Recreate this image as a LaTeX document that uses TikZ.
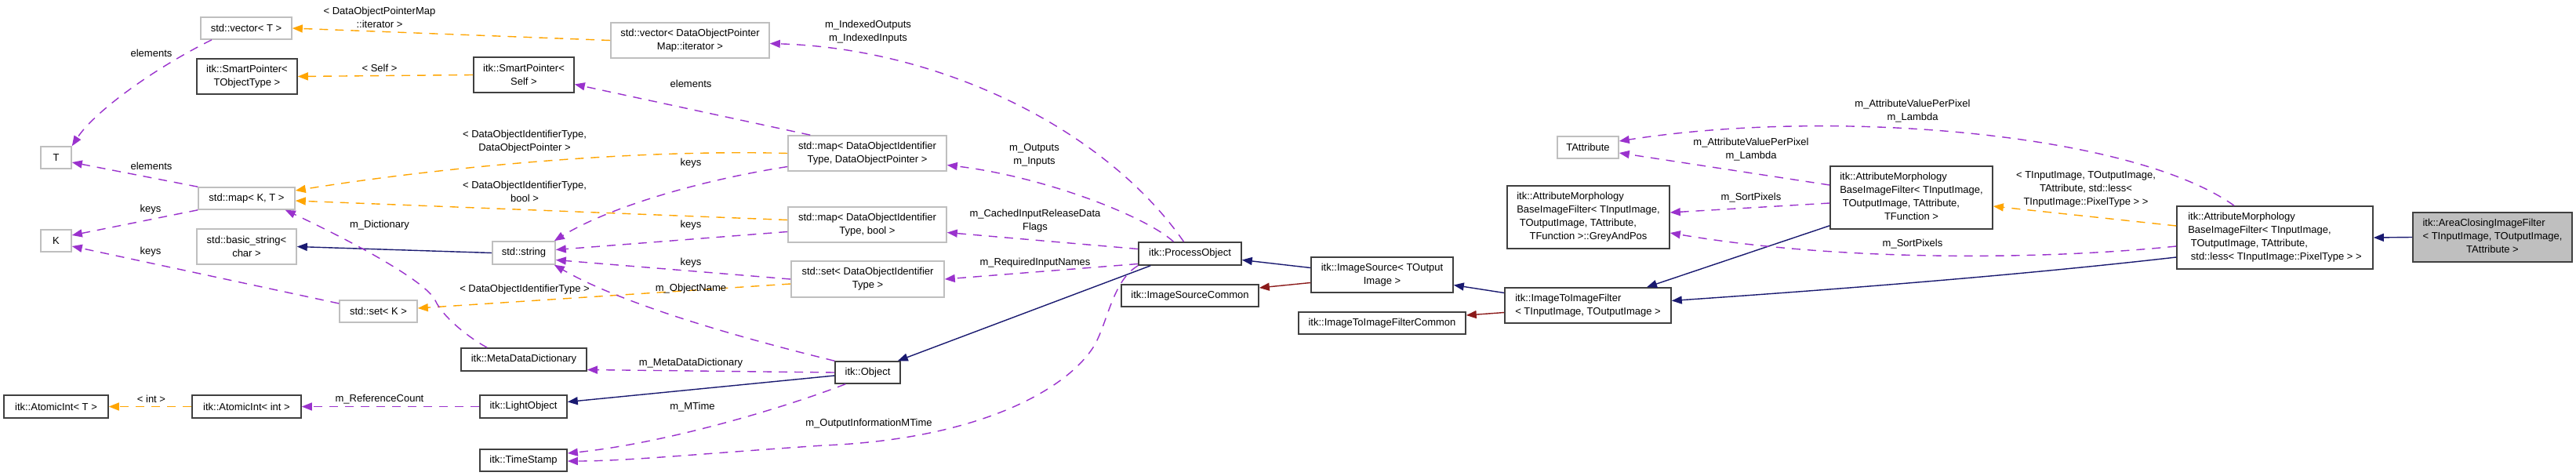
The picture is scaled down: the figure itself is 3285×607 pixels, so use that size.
\documentclass[tikz,border=0pt]{standalone}
\usepackage{fontspec}
\setmainfont{Liberation Sans}
\usetikzlibrary{arrows.meta}
\definecolor{orchid}{HTML}{9A32CD}
\definecolor{orng}{HTML}{FFA500}
\definecolor{navyb}{HTML}{191970}
\definecolor{fireb}{HTML}{8B1A1A}
\definecolor{grey75}{HTML}{BFBFBF}
\definecolor{boxblk}{HTML}{404040}
\newcommand{\lt}[1]{\begin{tabular}{@{}l@{}}#1\end{tabular}}
\begin{document}
\begin{tikzpicture}[x=1pt,y=-1pt,
  base/.style={rectangle, inner sep=0pt, font=\fontsize{13}{17}\selectfont, line width=1.6pt, align=center, fill=white},
  gbox/.style={base, draw=grey75},
  bbox/.style={base, draw=boxblk},
  sz/.style 2 args={minimum width=#1pt, minimum height=#2pt},
  lbl/.style={font=\fontsize{13}{17}\selectfont, align=center, inner sep=0pt},
  tip/.style={-{Triangle[length=13pt,width=10pt]}},
  use/.style={draw=orchid, line width=1.4pt, dash pattern=on 11pt off 9pt, tip},
  tmpl/.style={draw=orng, line width=1.4pt, dash pattern=on 11pt off 9pt, tip},
  inh/.style={draw=navyb, line width=1.4pt, tip},
  priv/.style={draw=fireb, line width=1.4pt, tip}
]
\fill[white] (0,0) rectangle (3285,607);
\useasboundingbox (0,0) rectangle (3285,607);

% nodes
\node[gbox, sz={116}{28}] (vecT) at (314,36) {std::vector< T >};
\node[bbox, sz={128}{45}] (spT) at (315,97.5) {itk::SmartPointer<\\TObjectType >};
\node[gbox, sz={39}{28}] (T) at (71.5,201) {T};
\node[gbox, sz={123}{28}] (mapKT) at (314.5,253) {std::map< K, T >};
\node[gbox, sz={39}{28}] (K) at (71.5,307) {K};
\node[gbox, sz={127}{45}] (bstr) at (314.5,314.5) {std::basic\_string<\\char >};
\node[gbox, sz={99}{28}] (setK) at (482.5,397) {std::set< K >};
\node[bbox, sz={133}{29}] (aiT) at (71.5,518.5) {itk::AtomicInt< T >};
\node[bbox, sz={139}{29}] (aiInt) at (314.5,518.5) {itk::AtomicInt< int >};
\node[bbox, sz={160}{29}] (mdd) at (668,458.5) {itk::MetaDataDictionary};
\node[gbox, sz={202}{45}] (vecDOP) at (880,51.5) {std::vector< DataObjectPointer\\Map::iterator >};
\node[bbox, sz={128}{45}] (spSelf) at (668,95.5) {itk::SmartPointer<\\Self >};
\node[gbox, sz={202}{45}] (mapDOP) at (1106,195.5) {std::map< DataObjectIdentifier\\Type, DataObjectPointer >};
\node[gbox, sz={202}{45}] (mapBool) at (1106,286.5) {std::map< DataObjectIdentifier\\Type, bool >};
\node[gbox, sz={80}{29}] (str) at (668,322.5) {std::string};
\node[gbox, sz={195}{46}] (setDOI) at (1106.5,356) {std::set< DataObjectIdentifier\\Type >};
\node[bbox, sz={83}{28}] (obj) at (1106.5,475) {itk::Object};
\node[bbox, sz={111}{29}] (lobj) at (667.5,518.5) {itk::LightObject};
\node[bbox, sz={111}{28}] (ts) at (667.5,587) {itk::TimeStamp};
\node[bbox, sz={131}{29}] (po) at (1517.5,323.5) {itk::ProcessObject};
\node[bbox, sz={181}{45}] (isrc) at (1762.5,350.5) {itk::ImageSource< TOutput\\Image >};
\node[bbox, sz={175}{28}] (isc) at (1517.5,377) {itk::ImageSourceCommon};
\node[bbox, sz={213}{28}] (iifc) at (1762.5,412) {itk::ImageToImageFilterCommon};
\node[bbox, sz={212}{45}] (iif) at (2025,389.5) {\lt{itk::ImageToImageFilter\\< TInputImage, TOutputImage >}};
\node[gbox, sz={78}{28}] (tattr) at (2025,188) {TAttribute};
\node[bbox, sz={207}{80}] (amTF) at (2437.5,252) {\lt{itk::AttributeMorphology\\BaseImageFilter< TInputImage,\\\ TOutputImage, TAttribute,\\\multicolumn{1}{@{}c@{}}{TFunction >}}};
\node[bbox, sz={207}{80}] (gap) at (2025.5,277) {\lt{itk::AttributeMorphology\\BaseImageFilter< TInputImage,\\\ TOutputImage, TAttribute,\\\multicolumn{1}{@{}c@{}}{TFunction >::GreyAndPos}}};
\node[bbox, sz={250}{80}] (amLess) at (2901,303) {\lt{itk::AttributeMorphology\\BaseImageFilter< TInputImage,\\\ TOutputImage, TAttribute,\\\ std::less< TInputImage::PixelType > >}};
\node[bbox, sz={203}{63}, fill=grey75] (acif) at (3178.5,302.5) {\lt{itk::AreaClosingImageFilter\\< TInputImage, TOutputImage,\\\multicolumn{1}{@{}c@{}}{TAttribute >}}};

% edges
\draw[tmpl] (vecDOP.west) -- (vecT.east);
\draw[use] ([xshift=-44pt]vecT.south) .. controls (195,88) and (120,143) .. (T.north east);
\draw[tmpl] (spSelf.west) -- (spT.east);
\draw[use] (mapKT.north west) -- ([yshift=-6pt]T.east);
\draw[use] (mapKT.south west) -- ([yshift=7pt]K.east);
\draw[use] ([yshift=10pt]setK.west) -- ([yshift=-7pt]K.east);
\draw[tmpl] (mapDOP.west) .. controls (800,190) and (550,215) .. ([yshift=10pt]mapKT.east);
\draw[tmpl] ([yshift=6pt]mapBool.west) -- ([yshift=-3pt]mapKT.east);
\draw[tmpl] ([yshift=-6pt]setDOI.west) -- ([yshift=4pt]setK.east);
\draw[use] ([xshift=29pt]mapDOP.north west) -- ([yshift=-12pt]spSelf.east);
\draw[use] ([yshift=-17pt]mapDOP.west) .. controls (880,232) and (770,268) .. ([xshift=-2pt]str.north east);
\draw[use] ([yshift=-9pt]mapBool.west) -- ([yshift=4pt]str.east);
\draw[use] (setDOI.west) -- ([yshift=-9pt]str.east);
\draw[inh] (str.west) -- (bstr.east);
\draw[use] ([xshift=34pt]mdd.north west) .. controls (600,432) and (565,405) .. (555,383) .. controls (545,362) and (470,318) .. ([xshift=-13pt]mapKT.south east);
\draw[use] (obj.north west) .. controls (900,420) and (780,380) .. ([xshift=-2pt]str.south east);
\draw[use] (obj.west) -- ([yshift=-13pt]mdd.east);
\draw[inh] ([yshift=-4pt]obj.west) -- ([yshift=6pt]lobj.east);
\draw[tmpl] (aiInt.west) -- (aiT.east);
\draw[use] (lobj.west) -- (aiInt.east);
\draw[use] ([xshift=14pt]obj.south west) .. controls (1000,520) and (850,565) .. ([yshift=9pt]ts.east);
\draw[use] (po.south west) .. controls (1418,358) and (1412,415) .. (1394,443) .. controls (1360,496) and (1250,560) .. (1050,568) .. controls (900,578) and (800,588) .. ([yshift=-1pt]ts.east);
\draw[inh] ([xshift=16pt]po.south west) -- ([xshift=-4pt]obj.north east);
\draw[use] ([xshift=-8pt]po.north) .. controls (1410,165) and (1200,62) .. ([yshift=-4pt]vecDOP.east);
\draw[use] ([xshift=-21pt]po.north) .. controls (1460,275) and (1330,225) .. ([yshift=-15pt]mapDOP.east);
\draw[use] ([yshift=6pt]po.west) -- ([yshift=-10pt]mapBool.east);
\draw[use] ([yshift=-13pt]po.west) -- (setDOI.east);
\draw[inh] ([yshift=9pt]isrc.west) -- ([yshift=-8pt]po.east);
\draw[priv] ([yshift=-10pt]isrc.west) -- ([yshift=10pt]isc.east);
\draw[inh] ([yshift=16pt]iif.west) -- ([yshift=-13pt]isrc.east);
\draw[priv] ([yshift=-9pt]iif.west) -- ([yshift=10pt]iifc.east);
\draw[inh] ([yshift=5pt]amTF.south west) -- ([xshift=75pt]iif.north);
\draw[use] ([yshift=16pt]amTF.west) -- ([yshift=-7pt]tattr.east);
\draw[use] ([yshift=-7pt]amTF.west) -- ([yshift=6pt]gap.east);
\draw[tmpl] ([yshift=15pt]amLess.west) -- ([yshift=-11pt]amTF.east);
\draw[use] ([xshift=-52pt]amLess.north) .. controls (2720,170) and (2340,137) .. ([yshift=8pt]tattr.east);
\draw[use] ([yshift=-11pt]amLess.west) .. controls (2600,332) and (2340,333) .. ([yshift=-20pt]gap.east);
\draw[inh] ([yshift=-25pt]amLess.west) .. controls (2600,348) and (2400,365) .. ([yshift=6pt]iif.east);
\draw[inh] (acif.west) -- (amLess.east);

% labels
\node[lbl] (l1) at (484,22) {< DataObjectPointerMap\\::iterator >};
\node[lbl] (l2) at (193,68) {elements};
\node[lbl] (l3) at (484,87) {< Self >};
\node[lbl] (l4) at (193,212) {elements};
\node[lbl] (l5) at (192,267) {keys};
\node[lbl] (l6) at (192,321) {keys};
\node[lbl] (l7) at (484,287) {m\_Dictionary};
\node[lbl] (l8) at (193,509) {< int >};
\node[lbl] (l9) at (484,509) {m\_ReferenceCount};
\node[lbl] (l10) at (669,180.5) {< DataObjectIdentifierType,\\DataObjectPointer >};
\node[lbl] (l11) at (669,244.5) {< DataObjectIdentifierType,\\bool >};
\node[lbl] (l12) at (881,107) {elements};
\node[lbl] (l13) at (881,208) {keys};
\node[lbl] (l14) at (881,287) {keys};
\node[lbl] (l15) at (881,335) {keys};
\node[lbl] (l16) at (881,368) {m\_ObjectName};
\node[lbl] (l17) at (669,369) {< DataObjectIdentifierType >};
\node[lbl] (l18) at (1107,40.5) {m\_IndexedOutputs\\m\_IndexedInputs};
\node[lbl] (l19) at (881,463) {m\_MetaDataDictionary};
\node[lbl] (l20) at (883,519) {m\_MTime};
\node[lbl] (l21) at (1108,540) {m\_OutputInformationMTime};
\node[lbl] (l22) at (1319,198) {m\_Outputs\\m\_Inputs};
\node[lbl] (l23) at (1320,282) {m\_CachedInputReleaseData\\Flags};
\node[lbl] (l24) at (1320,335) {m\_RequiredInputNames};
\node[lbl] (l25) at (2439,142) {m\_AttributeValuePerPixel\\m\_Lambda};
\node[lbl] (l26) at (2233,190.5) {m\_AttributeValuePerPixel\\m\_Lambda};
\node[lbl] (l27) at (2233,252) {m\_SortPixels};
\node[lbl] (l28) at (2439,311) {m\_SortPixels};
\node[lbl] (l29) at (2660,241) {< TInputImage, TOutputImage,\\TAttribute, std::less<\\TInputImage::PixelType > >};
\end{tikzpicture}
\end{document}
